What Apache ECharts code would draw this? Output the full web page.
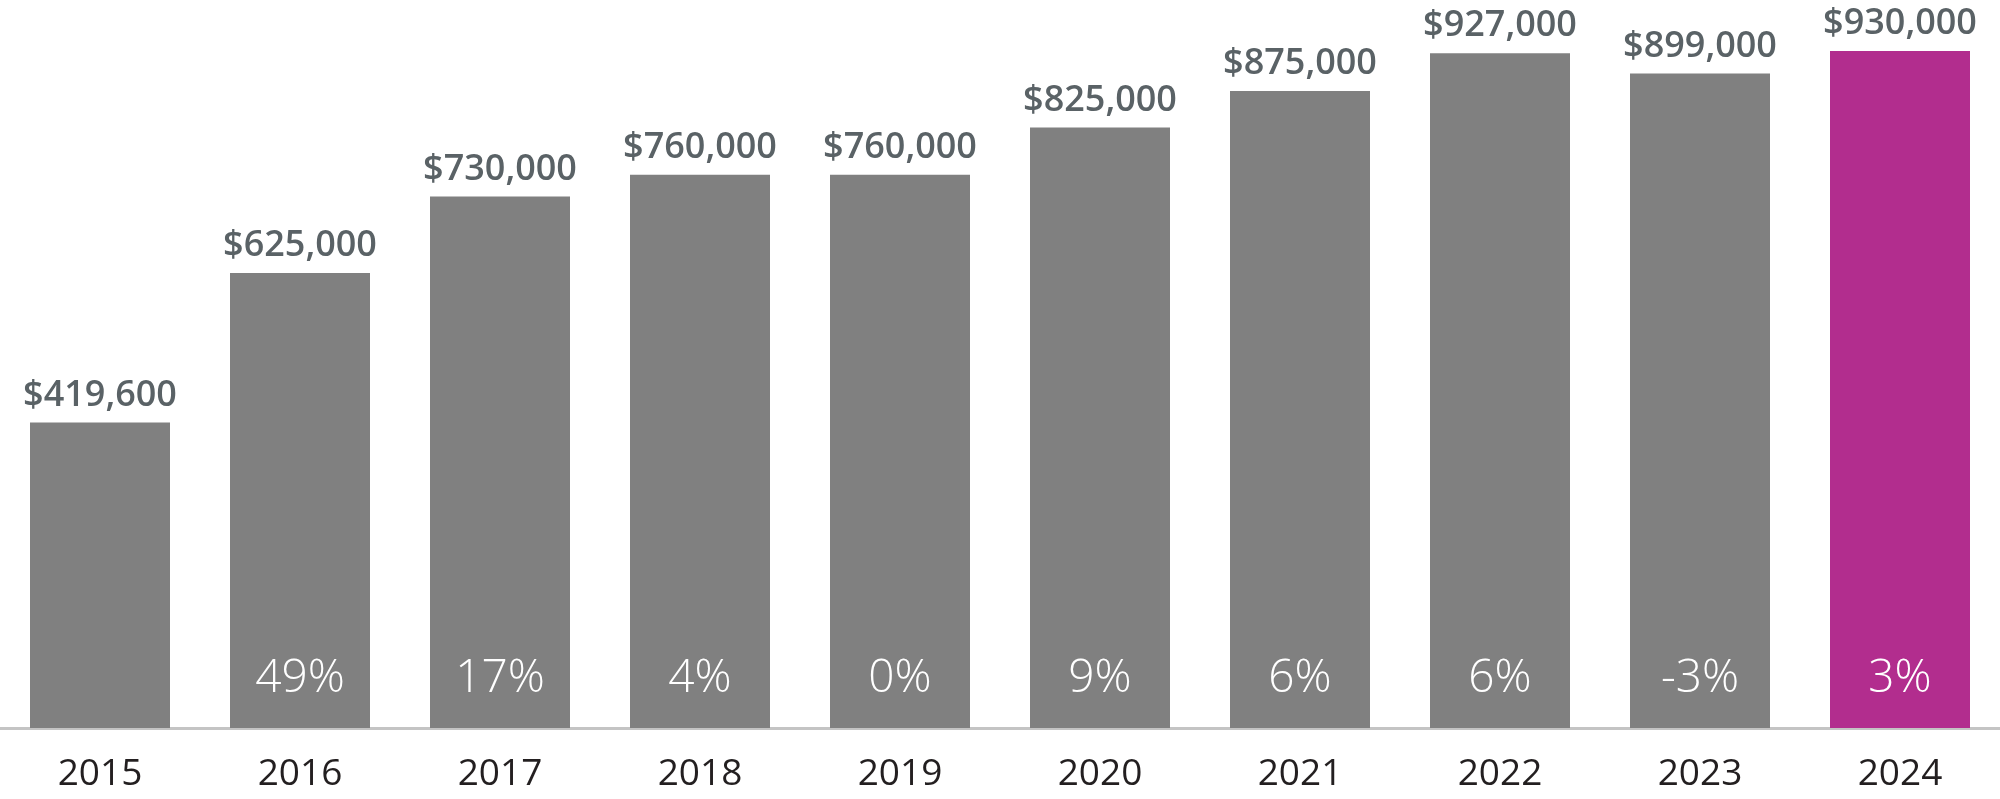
<!DOCTYPE html>
<html>
<head>
<meta charset="utf-8">
<script src="https://cdn.jsdelivr.net/npm/echarts@6/dist/echarts.min.js"></script>
<style>
html,body{margin:0;padding:0;background:#fff;}
#chart{width:2000px;height:799px;}
</style>
</head>
<body>
<div id="chart"></div>
<script>
const years = ['2015','2016','2017','2018','2019','2020','2021','2022','2023','2024'];
const prices = [419600, 625000, 730000, 760000, 760000, 825000, 875000, 927000, 899000, 930000];
const changes = ['', '49%', '17%', '4%', '0%', '9%', '6%', '6%', '-3%', '3%'];
const highlightYear = '2024';

const GRAY = '#808080';
const MAGENTA = '#b22d8e';

const fmt = v => '$' + v.toLocaleString('en-US');

const chart = echarts.init(document.getElementById('chart'));
chart.setOption({
  animation: false,
  grid: { left: 0, right: 0, top: 0, bottom: 71 },
  xAxis: {
    type: 'category',
    data: years,
    axisLine: { show: true, lineStyle: { color: '#c4c4c4', width: 3 } },
    axisTick: { show: false },
    axisLabel: {
      color: '#231f20', fontFamily: 'Open Sans', fontSize: 37, fontWeight: 400, margin: 28
    }
  },
  yAxis: { type: 'value', min: 0, max: 1000000, show: false, splitLine: { show: false } },
  series: [
    {
      type: 'bar',
      barCategoryGap: '30%',
      data: prices.map((v, i) => ({
        value: v,
        itemStyle: { color: years[i] === highlightYear ? MAGENTA : GRAY }
      })),
      label: {
        show: true, position: 'top', distance: 9,
        formatter: p => fmt(p.value),
        color: '#5a6266', fontFamily: 'Open Sans', fontWeight: 600, fontSize: 36
      },
      z: 2
    },
    {
      type: 'bar',
      barGap: '-100%',
      barCategoryGap: '30%',
      data: prices.map(v => ({ value: v, itemStyle: { color: 'rgba(0,0,0,0)' } })),
      label: {
        show: true, position: 'insideBottom', distance: 26,
        formatter: p => changes[p.dataIndex],
        color: '#ffffff', fontFamily: 'Open Sans', fontWeight: 300, fontSize: 46
      },
      silent: true,
      z: 3
    }
  ]
});
</script>
</body>
</html>
